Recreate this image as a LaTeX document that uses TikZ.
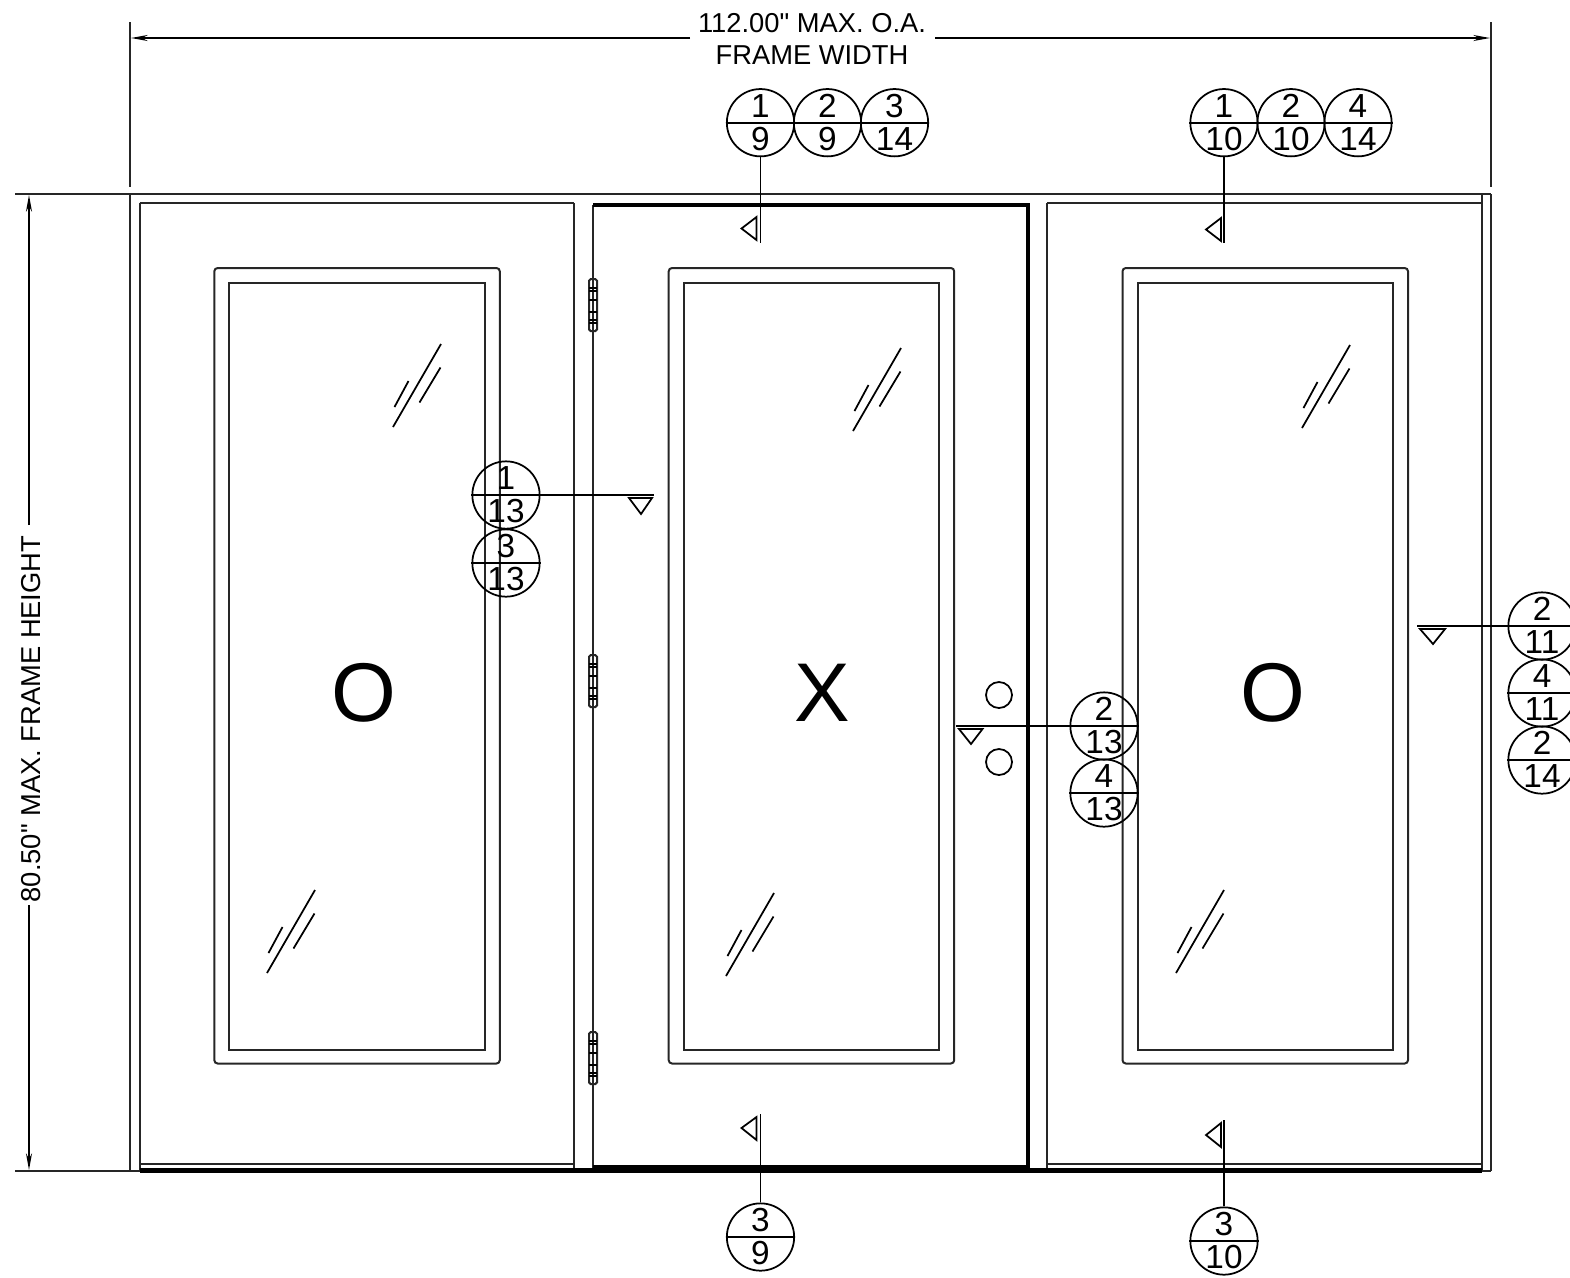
\documentclass[tikz,border=0pt]{standalone}
\usepackage{fontspec}
\setmainfont{Liberation Sans}[Ligatures=TeXOff]
\usetikzlibrary{arrows.meta}
\tikzset{
  thin line/.style={line width=1.2pt,color=black!85},
  heavy line/.style={line width=1.9pt,color=black},
  bubble/.style={circle,draw,line width=1.05pt,minimum size=40.4pt,inner sep=0pt},
  bubble text/.style={inner sep=0pt,font=\fontsize{20}{20}\selectfont},
  dim text/.style={inner sep=0pt,font=\fontsize{16.4}{16.4}\selectfont},
  big text/.style={inner sep=0pt,font=\fontsize{50}{50}\selectfont},
  section line/.style={line width=1.05pt},
  dim line/.style={line width=1.05pt,-{Stealth[length=10pt,width=3.6pt]}},
}
% detail bubble: name, x, y, upper, lower
\newcommand{\detailbubble}[5]{
  \node [bubble] (#1) at (#2,#3) {};
  \draw [section line] (#1.west) -- (#1.east);
  \node [bubble text] (#1up) at ([yshift=-10.3pt]#1.center) {#4};
  \node [bubble text] (#1lo) at ([yshift=9.8pt]#1.center) {#5};
}
% glass mark, placed by the low end of its long stroke
\newcommand{\glassmark}[2]{
  \draw [section line,shift={(#1,#2)}] (0,0) -- (48,-83) (1.5,-20) -- (15.5,-46) (26.5,-24.5) -- (47.5,-59.5);
}
% hinge leaf
\newcommand{\hingeleaf}[1]{
  \draw [thin line,shift={(593,#1)},rounded corners=1pt] (-4,0) rectangle (4,52);
  \foreach \hy in {9,12,21,33,41,44} \draw [section line,shift={(593,#1)}] (-4,\hy) -- (4,\hy);
}
\begin{document}
\begin{tikzpicture}[x=0.6pt,y=0.6pt,yscale=-1,xscale=1]
\useasboundingbox (0,0) rectangle (1570,1277);

% frame
\draw [thin line] (15,194) -- (1491,194);
\draw [thin line] (15,1170.5) -- (139.5,1170.5);
\draw [thin line] (1482,1170.5) -- (1491,1170.5);
\draw [thin line] (130,194) -- (130,1170.5);
\draw [thin line] (139.5,203) -- (139.5,1170.5);
\draw [thin line] (1482,194) -- (1482,1170.5);
\draw [thin line] (1491,194) -- (1491,1170.5);
\draw [thin line] (139.5,203) -- (574,203);
\draw [thin line] (1047,203) -- (1482,203);

% mullions and door
\draw [thin line] (574,203) -- (574,1168);
\draw [thin line] (593,205) -- (593,1168);
\draw [heavy line] (593,205) -- (1028,205) -- (1028,1168);
\draw [thin line] (1047,203) -- (1047,1168);
\draw [thin line] (139.5,1164) -- (574,1164);
\draw [thin line] (1047,1164) -- (1482,1164);
\draw [line width=3pt] (139.5,1170.5) -- (1482,1170.5);
\draw [line width=2.4pt] (593,1166.5) -- (1028,1166.5);

% glass
\foreach \gx in {214.3,668.7,1122.5} {
  \draw [thin line,rounded corners=2pt] (\gx,268) rectangle ++(285.5,795.5);
  \draw [thin line] (\gx+15,283) rectangle ++(255.5,766.5);
}
\glassmark{393}{427}
\glassmark{267}{973}
\glassmark{853}{431}
\glassmark{726}{976}
\glassmark{1302}{428}
\glassmark{1176}{973}

% hinges
\hingeleaf{279}
\hingeleaf{655}
\hingeleaf{1032}

% lock
\node [circle,draw,section line,minimum size=15.6pt,inner sep=0pt] (knobup) at (999,695) {};
\node [circle,draw,section line,minimum size=15.6pt,inner sep=0pt] (knoblo) at (999,762) {};

% operation letters
\node [big text] (leftlite) at (363.5,693) {O};
\node [big text] (doorleaf) at (822,693) {X};
\node [big text] (rightlite) at (1272.5,693) {O};

% dimensions
\node [dim text] (widthtop) at (812,23) {112.00" MAX. O.A.};
\node [dim text] (widthlow) at (812,55) {FRAME WIDTH};
\node [dim text,rotate=90] (heighttxt) at (31,719) {80.50" MAX. FRAME HEIGHT};
\coordinate (wleft) at (131,38);
\coordinate (wright) at (1490,38);
\coordinate (wgapl) at (690,38);
\coordinate (wgapr) at (935,38);
\coordinate (htop) at (29,195);
\coordinate (hbot) at (29,1170);
\coordinate (hgapt) at (29,525);
\coordinate (hgapb) at (29,905);
\draw [dim line] (wgapl) -- (wleft);
\draw [dim line] (wgapr) -- (wright);
\draw [dim line] (hgapt) -- (htop);
\draw [dim line] (hgapb) -- (hbot);
\coordinate (extla) at (130,22);
\coordinate (extlb) at (130,187);
\coordinate (extra) at (1491,22);
\coordinate (extrb) at (1491,187);
\draw [thin line] (extla) -- (extlb);
\draw [thin line] (extra) -- (extrb);

% detail bubbles
\detailbubble{headA}{760.5}{122.7}{1}{9}
\detailbubble{headB}{827.5}{122.7}{2}{9}
\detailbubble{headC}{894.5}{122.7}{3}{14}
\detailbubble{headD}{1224}{122.7}{1}{10}
\detailbubble{headE}{1291}{122.7}{2}{10}
\detailbubble{headF}{1358}{122.7}{4}{14}
\detailbubble{jambA}{506}{495}{1}{13}
\detailbubble{jambB}{506}{563}{3}{13}
\detailbubble{jambC}{1104}{726}{2}{13}
\detailbubble{jambD}{1104}{793}{4}{13}
\detailbubble{sideA}{1542}{626}{2}{11}
\detailbubble{sideB}{1542}{693}{4}{11}
\detailbubble{sideC}{1542}{760}{2}{14}
\detailbubble{sillA}{760.5}{1237}{3}{9}
\detailbubble{sillB}{1224}{1241}{3}{10}

% section cuts
\coordinate (cutA) at (760.5,243);
\coordinate (cutB) at (1224,243);
\coordinate (cutC) at (654,495);
\coordinate (cutD) at (956,726);
\coordinate (cutE) at (1417,626);
\coordinate (cutF) at (760.5,1114);
\coordinate (cutG) at (1224,1120);
\draw [section line] (headA.south) -- (cutA);
\draw [section line] (headD.south) -- (cutB);
\draw [section line] (jambA.east) -- (cutC);
\draw [section line] (jambC.west) -- (cutD);
\draw [section line] (sideA.west) -- (cutE);
\draw [section line] (sillA.north) -- (cutF);
\draw [section line] (sillB.north) -- (cutG);

% section flags
\draw [section line] (741.5,228.5) -- (756.5,217) -- (756.5,240) -- cycle;
\draw [section line] (1206,229.5) -- (1221,218) -- (1221,241) -- cycle;
\draw [section line] (741.5,1128) -- (756.5,1117) -- (756.5,1140) -- cycle;
\draw [section line] (1206,1135) -- (1221,1123) -- (1221,1147) -- cycle;
\draw [section line] (629,498) -- (652,498) -- (641,514) -- cycle;
\draw [section line] (959,729) -- (982.5,729) -- (971,744) -- cycle;
\draw [section line] (1420,629) -- (1445,629) -- (1433,644) -- cycle;

\end{tikzpicture}
\end{document}
